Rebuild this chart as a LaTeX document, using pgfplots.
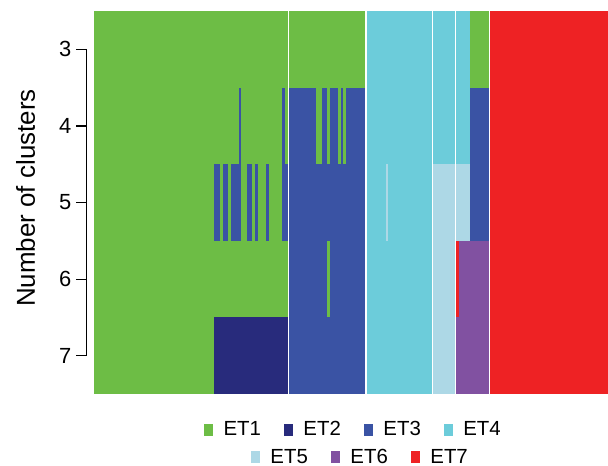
\documentclass[border=0pt]{standalone}
\usepackage{pgfplots}
\pgfplotsset{compat=1.18}
\usepackage{fontspec}
\setmainfont{Liberation Sans}
\definecolor{etgreen}{RGB}{109,189,69}
\definecolor{etnavy}{RGB}{40,43,124}
\definecolor{etblue}{RGB}{58,83,164}
\definecolor{etcyan}{RGB}{108,204,218}
\definecolor{etlight}{RGB}{173,216,230}
\definecolor{etpurple}{RGB}{129,81,161}
\definecolor{etred}{RGB}{238,34,36}
% one block: colour, x from, x to, y from, y to
\newcommand{\cell}[5]{\addplot[fill=#1,draw=none,forget plot] coordinates {(#2,#4) (#3,#4) (#3,#5) (#2,#5)};}
\pgfplotsset{
  legbase/.style={
    legend columns=4,
    legend image code/.code={\fill[##1,draw=none] (0bp,-6bp) rectangle (9bp,6bp);},
    legend style={draw=none, fill=none, inner sep=0pt, outer sep=0pt,
      nodes={inner sep=0pt},
      font=\fontsize{20.5}{24}\selectfont,
      column sep=10.5bp,
      /tikz/every even column/.append style={column sep=23bp}},
  }
}
\begin{document}
\begin{tikzpicture}
\begin{axis}[
  at={(94bp,-394bp)}, anchor=south west,
  width=514bp, height=383bp, scale only axis,
  xmin=94, xmax=608, ymin=2.5, ymax=7.5, y dir=reverse,
  clip=false,
  axis lines*=left, axis line style={draw=none},
  xtick=\empty, ytick={3,4,5,6,7},
  major tick length=0pt,
  /pgf/number format/assume math mode=true,
  yticklabel style={inner sep=0pt, anchor=east, xshift=-22.5bp, font=\fontsize{22}{26}\selectfont},
  ylabel={Number of clusters},
  every axis y label/.style={at={(axis description cs:-0.1148,0.5117)}, rotate=90, anchor=base, font=\fontsize{26}{30}\selectfont},
  legbase,
  legend style={at={(axis description cs:0.2140,-0.0927)}, anchor=west},
]
% group A
\cell{etgreen}{94}{288.3}{2.5}{7.5}
\cell{etnavy}{214}{288.3}{6.5}{7.5}
\cell{etblue}{239}{241}{3.5}{5.5}
\cell{etblue}{282}{285}{3.5}{5.5}
\cell{etblue}{214}{220}{4.5}{5.5}
\cell{etblue}{223}{228}{4.5}{5.5}
\cell{etblue}{231}{241}{4.5}{5.5}
\cell{etblue}{247}{252}{4.5}{5.5}
\cell{etblue}{255}{258}{4.5}{5.5}
\cell{etblue}{266}{269}{4.5}{5.5}
\cell{etblue}{282}{288.3}{4.5}{5.5}
% group B
\cell{etgreen}{289}{365}{2.5}{3.5}
\cell{etblue}{289}{365}{3.5}{7.5}
\cell{etgreen}{316}{322}{3.5}{4.5}
\cell{etgreen}{327}{330}{3.5}{4.5}
\cell{etgreen}{338}{341}{3.5}{4.5}
\cell{etgreen}{343}{346}{3.5}{4.5}
\cell{etgreen}{327}{330}{5.5}{6.5}
% group C
\cell{etcyan}{367}{432.3}{2.5}{7.5}
\cell{etlight}{386}{388}{4.5}{5.5}
% group D
\cell{etcyan}{433}{455.3}{2.5}{4.5}
\cell{etlight}{433}{455.3}{4.5}{7.5}
% group E
\cell{etcyan}{456}{470}{2.5}{4.5}
\cell{etlight}{456}{470}{4.5}{5.5}
\cell{etpurple}{456}{489.3}{5.5}{7.5}
\cell{etred}{456}{459.3}{5.5}{6.5}
\cell{etgreen}{470}{489.3}{2.5}{3.5}
\cell{etblue}{470}{489.3}{3.5}{5.5}
% group F
\cell{etred}{490}{608}{2.5}{7.5}
% y axis line and ticks
\addplot[black, line width=1.2bp, forget plot] coordinates {(76,3) (86.5,3) (86.5,7) (76,7)};
\addplot[black, line width=1.2bp, forget plot] coordinates {(76,4) (86.5,4)};
\addplot[black, line width=1.2bp, forget plot] coordinates {(76,5) (86.5,5)};
\addplot[black, line width=1.2bp, forget plot] coordinates {(76,6) (86.5,6)};
\addlegendimage{fill=etgreen}\addlegendentry{ET1}
\addlegendimage{fill=etnavy}\addlegendentry{ET2}
\addlegendimage{fill=etblue}\addlegendentry{ET3}
\addlegendimage{fill=etcyan}\addlegendentry{ET4}
\end{axis}
\begin{axis}[
  at={(94bp,-394bp)}, anchor=south west,
  width=514bp, height=383bp, scale only axis,
  xmin=94, xmax=608, ymin=2.5, ymax=7.5,
  hide axis,
  legbase,
  legend style={at={(axis description cs:0.3054,-0.1645)}, anchor=west},
]
\addlegendimage{fill=etlight}\addlegendentry{ET5}
\addlegendimage{fill=etpurple}\addlegendentry{ET6}
\addlegendimage{fill=etred}\addlegendentry{ET7}
\end{axis}
\path (0bp,0bp) rectangle (608bp,-466bp);
\end{tikzpicture}
\end{document}
